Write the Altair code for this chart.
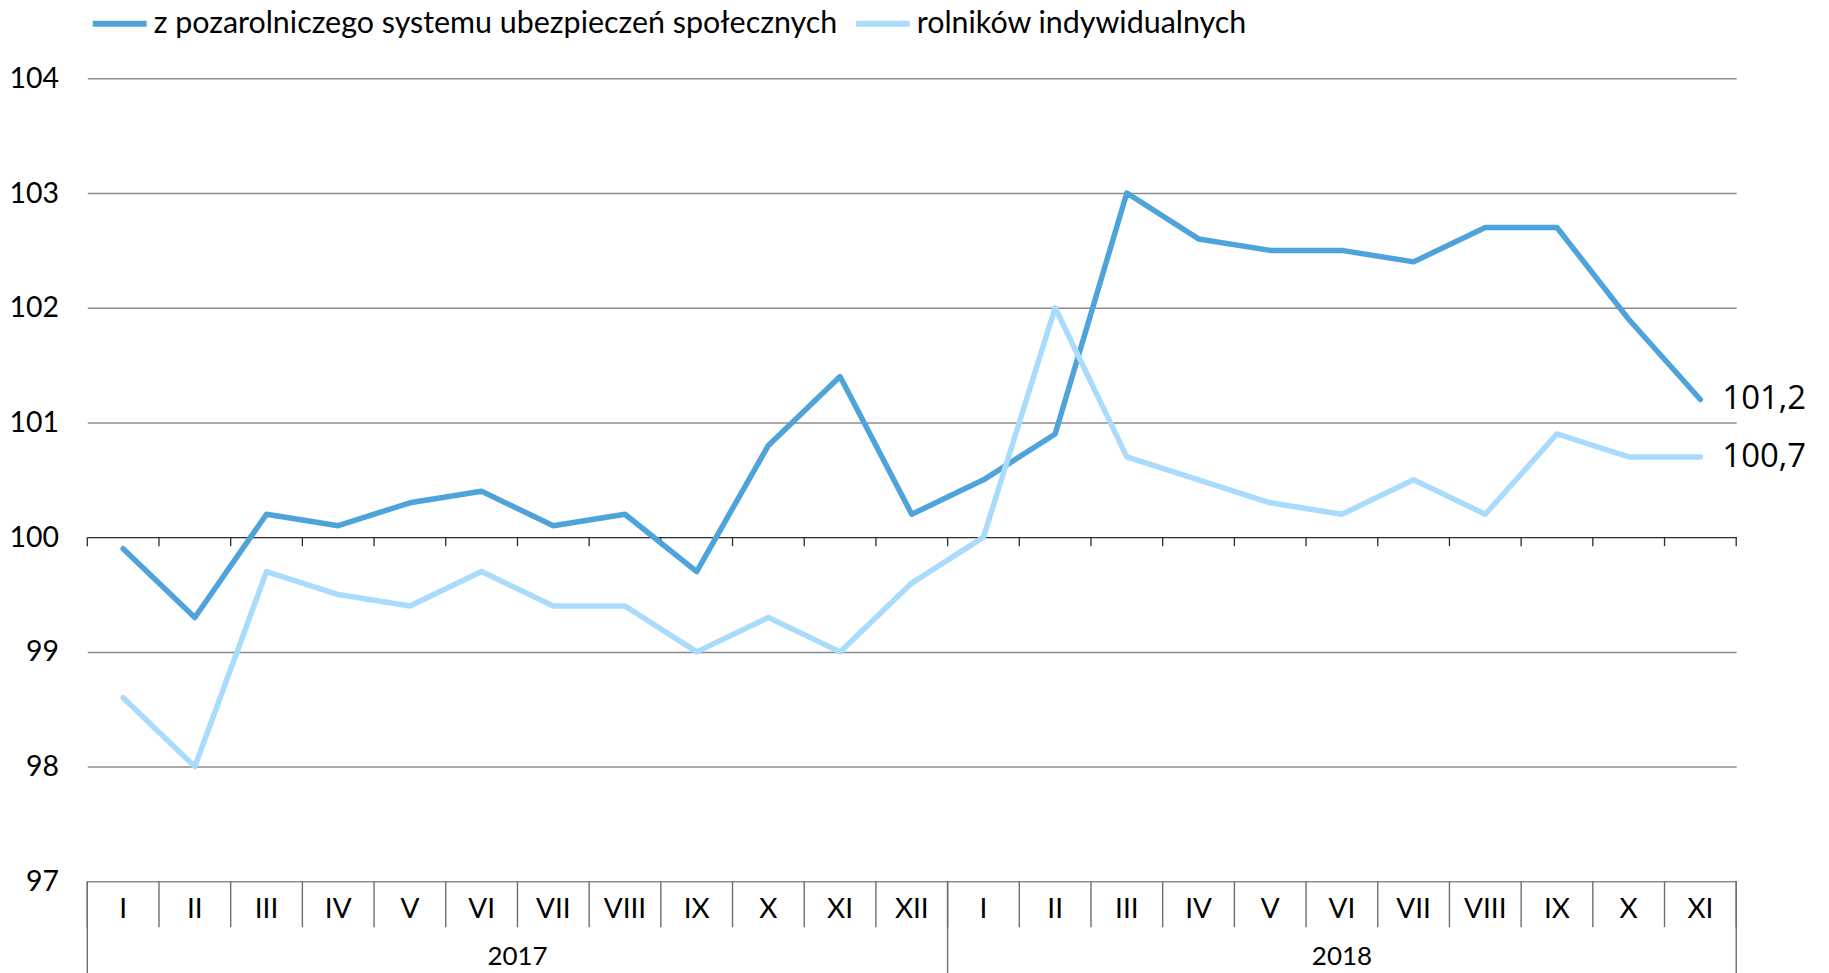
import altair as alt
import pandas as pd

# ---------------- data ----------------
months_2017 = ["I", "II", "III", "IV", "V", "VI", "VII", "VIII", "IX", "X", "XI", "XII"]
months_2018 = ["I", "II", "III", "IV", "V", "VI", "VII", "VIII", "IX", "X", "XI"]
years = ["2017", "2018"]
series_names = ["z pozarolniczego systemu ubezpieczeń społecznych", "rolników indywidualnych"]
nonagri = [99.9, 99.3, 100.2, 100.1, 100.3, 100.4, 100.1, 100.2, 99.7, 100.8, 101.4, 100.2,
           100.5, 100.9, 103.0, 102.6, 102.5, 102.5, 102.4, 102.7, 102.7, 101.9, 101.2]
farmers = [98.6, 98.0, 99.7, 99.5, 99.4, 99.7, 99.4, 99.4, 99.0, 99.3, 99.0, 99.6,
           100.0, 102.0, 100.7, 100.5, 100.3, 100.2, 100.5, 100.2, 100.9, 100.7, 100.7]
y_ticks = [97, 98, 99, 100, 101, 102, 103, 104]
colors = ["#4FA3DB", "#A8DBFC"]

# ---------------- tables ----------------
month_rows = []
for yr, ms in zip(years, [months_2017, months_2018]):
    for m in ms:
        month_rows.append({"year": yr, "month": m})
months_df = pd.DataFrame(month_rows)
months_df["idx"] = range(len(months_df))
months_df["pos"] = months_df["idx"] + 0.5
n = len(months_df)

rows = []
for name, vals in zip(series_names, [nonagri, farmers]):
    for i, v in enumerate(vals):
        rows.append({"series": name, "pos": i + 0.5, "value": v, "order": i})
lines_df = pd.DataFrame(rows)
last_df = lines_df[lines_df["order"] == n - 1].copy()
last_df["label"] = last_df["value"].map(lambda v: f"{v:.1f}".replace(".", ","))

bounds_df = pd.DataFrame({"b": list(range(n + 1))})
year_df = months_df.groupby("year").agg(start=("idx", "min"), end=("idx", "max")).reset_index()
year_df["center"] = (year_df["start"] + year_df["end"] + 1) / 2
year_bounds_df = pd.DataFrame({"b": sorted(set(year_df["start"].tolist() + [n]))})

# ---------------- chart ----------------
W, H = 1653, 805
xs = alt.Scale(domain=[0, n], nice=False, zero=False)
ys = alt.Scale(domain=[97, 104], nice=False, zero=False)
yaxis = alt.Axis(
    values=y_ticks, title=None, domain=False, ticks=False, grid=True, format="d",
    gridColor={"condition": {"test": "datum.value === 100", "value": "#2b2b2b"}, "value": "#8c8c8c"},
    gridWidth={"condition": {"test": "datum.value === 100", "value": 1.3}, "value": 1.5},
    labelFont="Lato", labelFontSize=28.5, labelColor="#000000", labelPadding=29,
)

month_sep = alt.Chart(bounds_df).mark_rule(color="#6e6e6e", strokeWidth=1.4, y2Offset=46).encode(
    x=alt.X("b:Q", scale=xs, axis=None),
    y=alt.datum(97, scale=ys, axis=yaxis),
    y2=alt.datum(97),
)
year_sep = alt.Chart(year_bounds_df).mark_rule(color="#6e6e6e", strokeWidth=1.4, y2Offset=92).encode(
    x=alt.X("b:Q", scale=xs, axis=None),
    y=alt.datum(97),
    y2=alt.datum(97),
)
zero_ticks = alt.Chart(bounds_df).mark_rule(color="#2b2b2b", strokeWidth=1.3, y2Offset=9).encode(
    x=alt.X("b:Q", scale=xs, axis=None),
    y=alt.datum(100),
    y2=alt.datum(100),
)
lines = alt.Chart(lines_df).mark_line(strokeWidth=5.5, strokeCap="round", strokeJoin="round").encode(
    x=alt.X("pos:Q", scale=xs, axis=None),
    y=alt.Y("value:Q", scale=ys, axis=yaxis),
    color=alt.Color(
        "series:N",
        scale=alt.Scale(domain=series_names, range=colors),
        sort=series_names,
        legend=alt.Legend(
            orient="none", legendX=2.5, legendY=-85, direction="horizontal", title=None,
            labelFont="Lato", labelFontSize=30.5, labelColor="#000000", labelLimit=0,
            symbolType="stroke", symbolSize=2916, symbolStrokeWidth=6,
            columnPadding=6, labelOffset=4, padding=0,
        ),
    ),
    order=alt.Order("order:Q"),
    detail="series:N",
)
end_labels = alt.Chart(last_df).mark_text(
    align="left", baseline="middle", dx=22, font="Open Sans", fontSize=33, color="#000000"
).encode(
    x=alt.X("pos:Q", scale=xs, axis=None),
    y=alt.Y("value:Q", scale=ys, axis=yaxis),
    text="label:N",
)
month_labels = alt.Chart(months_df).mark_text(
    baseline="middle", align="center", dy=29, font="Lato", fontSize=28, color="#000000"
).encode(
    x=alt.X("pos:Q", scale=xs, axis=None),
    y=alt.datum(97),
    text="month:N",
)
year_labels = alt.Chart(year_df).mark_text(
    baseline="middle", align="center", dy=76, font="Lato", fontSize=26, color="#000000"
).encode(
    x=alt.X("center:Q", scale=xs, axis=None),
    y=alt.datum(97),
    text="year:N",
)

chart = alt.layer(
    month_sep, year_sep, zero_ticks, lines, end_labels, month_labels, year_labels
).properties(
    width=W, height=H,
    autosize=alt.AutoSizeParams(type="none"),
    padding={"left": 79.5, "top": 69.3, "right": 85, "bottom": 91},
).configure(background="white").configure_view(stroke=None)

chart.save("out.html", embed_options={"renderer": "svg", "actions": False})
